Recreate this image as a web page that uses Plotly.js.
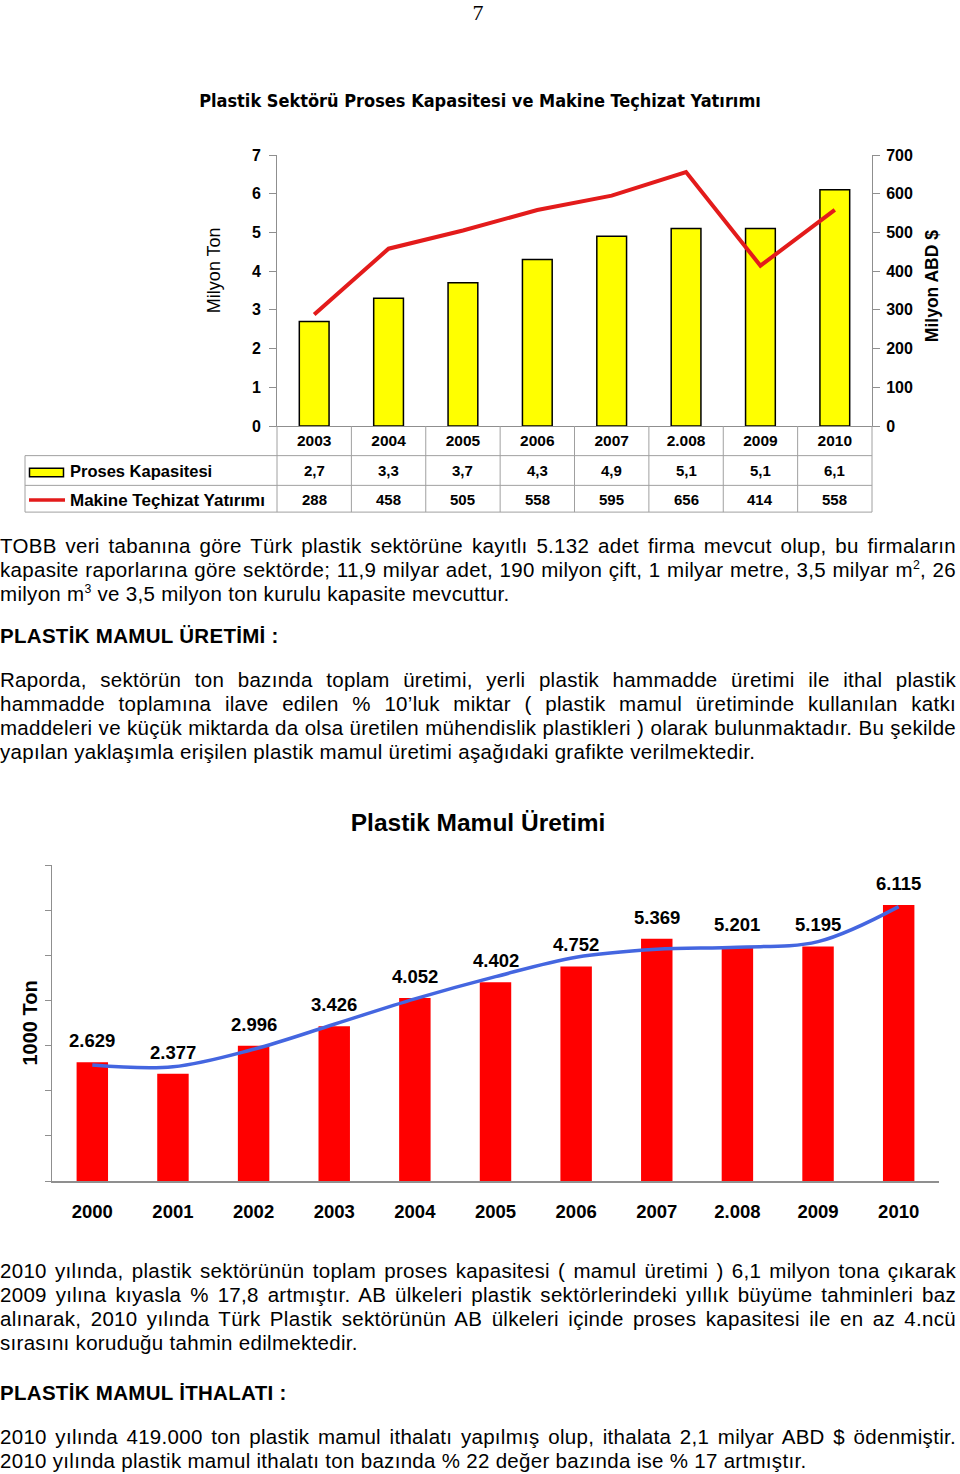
<!DOCTYPE html>
<html>
<head>
<meta charset="utf-8">
<script src="https://cdn.plot.ly/plotly-3.0.1.min.js"></script>
<style>
html,body{margin:0;padding:0;background:#fff;}
#page{position:relative;width:960px;height:1474px;overflow:hidden;font-family:"Liberation Sans",Arial,sans-serif;color:#000;background:#fff;}
.ln{position:absolute;left:0;width:956px;font-size:20.5px;letter-spacing:0.3px;line-height:24px;text-align:justify;text-align-last:justify;}
.ln.last{text-align-last:left;}
.hd{font-weight:bold;}
sup{font-size:60%;line-height:0;vertical-align:super;}
#pg{position:absolute;left:0;width:956px;top:1px;text-align:center;font-family:"Liberation Serif","Times New Roman",serif;font-size:22px;line-height:24px;}
#c1{position:absolute;left:0;top:60px;width:960px;height:470px;}
#c2{position:absolute;left:0;top:780px;width:960px;height:450px;}
</style>
</head>
<body>
<div id="page">
  <div id="pg">7</div>
  <div id="c1"></div>

  <div class="ln" style="top:534px">TOBB veri tabanına göre Türk plastik sektörüne kayıtlı 5.132 adet firma mevcut olup, bu firmaların</div>
  <div class="ln" style="top:558px">kapasite raporlarına göre sektörde; 11,9 milyar adet, 190 milyon çift, 1 milyar metre, 3,5 milyar m<sup>2</sup>, 26</div>
  <div class="ln last" style="top:582px">milyon m<sup>3</sup> ve 3,5 milyon ton kurulu kapasite mevcuttur.</div>

  <div class="ln last hd" style="top:624px">PLASTİK MAMUL ÜRETİMİ :</div>

  <div class="ln" style="top:668px">Raporda, sektörün ton bazında toplam üretimi, yerli plastik hammadde üretimi ile ithal plastik</div>
  <div class="ln" style="top:692px">hammadde toplamına ilave edilen % 10’luk miktar ( plastik mamul üretiminde kullanılan katkı</div>
  <div class="ln" style="top:716px">maddeleri ve küçük miktarda da olsa üretilen mühendislik plastikleri ) olarak bulunmaktadır. Bu şekilde</div>
  <div class="ln last" style="top:740px">yapılan yaklaşımla erişilen plastik mamul üretimi aşağıdaki grafikte verilmektedir.</div>

  <div id="c2"></div>

  <div class="ln" style="top:1259px">2010 yılında, plastik sektörünün toplam proses kapasitesi ( mamul üretimi ) 6,1 milyon tona çıkarak</div>
  <div class="ln" style="top:1283px">2009 yılına kıyasla % 17,8 artmıştır. AB ülkeleri plastik sektörlerindeki yıllık büyüme tahminleri baz</div>
  <div class="ln" style="top:1307px">alınarak, 2010 yılında Türk Plastik sektörünün AB ülkeleri içinde proses kapasitesi ile en az 4.ncü</div>
  <div class="ln last" style="top:1331px">sırasını koruduğu tahmin edilmektedir.</div>

  <div class="ln last hd" style="top:1381px">PLASTİK MAMUL İTHALATI :</div>

  <div class="ln" style="top:1425px">2010 yılında 419.000 ton plastik mamul ithalatı yapılmış olup, ithalata 2,1 milyar ABD $ ödenmiştir.</div>
  <div class="ln last" style="top:1449px">2010 yılında plastik mamul ithalatı ton bazında % 22 değer bazında ise % 17 artmıştır.</div>
</div>

<script>
// ---------- Data: chart 1 ----------
const years1 = ['2003', '2004', '2005', '2006', '2007', '2.008', '2009', '2010'];
const capacity = [2.7, 3.3, 3.7, 4.3, 4.9, 5.1, 5.1, 6.1];          // Milyon Ton
const investment = [288, 458, 505, 558, 595, 656, 414, 558];       // Milyon ABD $
const seriesNames = ['Proses Kapasitesi', 'Makine Teçhizat Yatırımı'];

// ---------- Data: chart 2 ----------
const years2 = ['2000', '2001', '2002', '2003', '2004', '2005', '2006', '2007', '2.008', '2009', '2010'];
const production = [2629, 2377, 2996, 3426, 4052, 4402, 4752, 5369, 5201, 5195, 6115]; // 1000 Ton
const trendLine = [2570, 2530, 2918, 3472, 4033, 4527, 4958, 5135, 5180, 5303, 6078];

const FONT = '"Liberation Sans", Arial, sans-serif';
const GRAY = '#8f8f8f';

function dec1(v) { return v.toFixed(1).replace('.', ','); }
function thou(v) { return String(v).replace(/\B(?=(\d{3})+(?!\d))/g, '.'); }

// keep each justified text line on one row
document.querySelectorAll('.ln').forEach(el => {
  if (el.classList.contains('last')) return;
  el.style.textAlign = 'left'; el.style.textAlignLast = 'left'; el.style.whiteSpace = 'nowrap';
  const r = document.createRange(); r.selectNodeContents(el);
  const w = r.getBoundingClientRect().width;
  el.style.textAlign = ''; el.style.textAlignLast = ''; el.style.whiteSpace = '';
  if (w > 954) {
    const n = el.textContent.length;
    el.style.letterSpacing = (0.3 - (w - 954) / n - 0.02) + 'px';
  }
});

// ================= Chart 1 =================
(function () {
  const H = 470, mt = 95, mb = 104.3;
  const plotH = H - mt - mb;
  const axisY = 60 + mt + plotH;
  const py = Y => (axisY - Y) / plotH;
  const plotL = 277, plotW = 960 - 277 - 88;
  const px = X => (X - plotL) / plotW;

  const traces = [
    {
      type: 'bar', name: seriesNames[0], x: years1, y: capacity, yaxis: 'y',
      width: 0.4,
      marker: { color: '#ffff00', line: { color: '#000', width: 1.5 } }
    },
    {
      type: 'scatter', mode: 'lines', name: seriesNames[1], x: years1, y: investment, yaxis: 'y2',
      line: { color: '#e31b1b', width: 4 }
    }
  ];

  const n = years1.length;
  const shapes = [];
  const tblTop = py(455.3), r1Bot = py(485), tblBot = py(511.7), tblLeft = px(25);
  for (let i = 0; i <= n; i++) {
    shapes.push({ type: 'line', xref: 'paper', yref: 'paper', x0: i / n, x1: i / n, y0: 0, y1: tblBot,
      line: { color: '#a0a0a0', width: 1 } });
  }
  shapes.push({ type: 'line', xref: 'paper', yref: 'paper', x0: tblLeft, x1: tblLeft, y0: tblTop, y1: tblBot,
    line: { color: '#a0a0a0', width: 1 } });
  [tblTop, r1Bot, tblBot].forEach(yv => shapes.push({ type: 'line', xref: 'paper', yref: 'paper',
    x0: tblLeft, x1: 1, y0: yv, y1: yv, line: { color: '#a0a0a0', width: 1 } }));
  shapes.push({ type: 'rect', xref: 'paper', yref: 'paper', x0: px(29.5), x1: px(63.5), y0: py(476.5), y1: py(468),
    fillcolor: '#ffff00', line: { color: '#000', width: 1.5 } });
  shapes.push({ type: 'line', xref: 'paper', yref: 'paper', x0: px(29), x1: px(65), y0: py(499.5), y1: py(499.5),
    line: { color: '#e31b1b', width: 3.5 } });

  const ann = [];
  const cellFont = { family: FONT, size: 15, color: '#000', weight: 'bold' };
  years1.forEach((yr, i) => {
    ann.push({ xref: 'x', yref: 'paper', x: i, y: py(470.5), text: dec1(capacity[i]), showarrow: false,
      font: cellFont, xanchor: 'center', yanchor: 'middle' });
    ann.push({ xref: 'x', yref: 'paper', x: i, y: py(499.5), text: String(investment[i]), showarrow: false,
      font: cellFont, xanchor: 'center', yanchor: 'middle' });
  });
  const legFont = { family: FONT, size: 16.5, color: '#000', weight: 'bold' };
  ann.push({ xref: 'paper', yref: 'paper', x: px(68), y: py(471), text: seriesNames[0], showarrow: false,
    font: legFont, xanchor: 'left', yanchor: 'middle' });
  ann.push({ xref: 'paper', yref: 'paper', x: px(68), y: py(500), text: seriesNames[1], showarrow: false,
    font: { family: FONT, size: 17, color: '#000', weight: 'bold' }, xanchor: 'left', yanchor: 'middle' });
  ann.push({ xref: 'paper', yref: 'paper', x: px(214), y: py(270), text: 'Milyon Ton', textangle: -90, showarrow: false,
    font: { family: FONT, size: 18, color: '#000' }, xanchor: 'center', yanchor: 'middle' });
  ann.push({ xref: 'paper', yref: 'paper', x: px(932), y: py(286), text: 'Milyon ABD $', textangle: -90, showarrow: false,
    font: { family: FONT, size: 17.5, color: '#000', weight: 'bold' }, xanchor: 'center', yanchor: 'middle' });

  const tickFont = { family: FONT, size: 16, color: '#000', weight: 'bold' };
  const layout = {
    width: 960, height: H,
    margin: { l: plotL, r: 88, t: mt, b: mb, pad: 0 },
    paper_bgcolor: 'rgba(0,0,0,0)', plot_bgcolor: 'rgba(0,0,0,0)',
    showlegend: false,
    title: {
      text: 'Plastik Sektörü Proses Kapasitesi ve Makine Teçhizat Yatırımı',
      font: { family: '"Liberation Sans Narrow", "DejaVu Sans Condensed", Arial, sans-serif', size: 18, color: '#000', weight: 'bold' },
      xref: 'container', x: 0.5, xanchor: 'center',
      yref: 'container', y: 1 - 41 / H, yanchor: 'middle'
    },
    xaxis: {
      type: 'category', range: [-0.5, n - 0.5], showline: true, linecolor: GRAY, linewidth: 1,
      ticks: '', showgrid: false, zeroline: false, tickfont: { family: FONT, size: 15.5, color: '#000', weight: 'bold' },
      fixedrange: true
    },
    yaxis: {
      range: [0, 7], tick0: 0, dtick: 1, showline: true, linecolor: GRAY, linewidth: 1,
      ticks: 'outside', ticklen: 7, tickcolor: GRAY, showgrid: false, zeroline: false,
      tickfont: tickFont, ticklabelstandoff: 5, fixedrange: true
    },
    yaxis2: {
      overlaying: 'y', side: 'right', range: [0, 700], tick0: 0, dtick: 100, showline: true, linecolor: GRAY, linewidth: 1,
      ticks: 'outside', ticklen: 7, tickcolor: GRAY, showgrid: false, zeroline: false,
      tickfont: tickFont, ticklabelstandoff: 3, fixedrange: true
    },
    shapes: shapes,
    annotations: ann
  };
  Plotly.newPlot('c1', traces, layout, { staticPlot: true, displayModeBar: false });
})();

// ================= Chart 2 =================
(function () {
  const H = 450;
  const traces = [
    {
      type: 'bar', x: years2, y: production, width: 0.39,
      marker: { color: '#ff0000', line: { width: 0 } }, name: 'Üretim'
    },
    {
      type: 'scatter', mode: 'lines', x: years2, y: trendLine, name: 'Trend',
      line: { color: '#4466e0', width: 3.5, shape: 'spline', smoothing: 1 }
    }
  ];
  const ann = years2.map((yr, i) => ({
    xref: 'x', yref: 'y', x: i, y: production[i], text: thou(production[i]), showarrow: false,
    xanchor: 'center', yanchor: 'bottom', yshift: 9,
    font: { family: FONT, size: 18.5, color: '#000', weight: 'bold' }
  }));
  const layout = {
    width: 960, height: H,
    margin: { l: 52, r: 21, t: 85, b: 49, pad: 0 },
    paper_bgcolor: 'rgba(0,0,0,0)', plot_bgcolor: 'rgba(0,0,0,0)',
    showlegend: false,
    title: {
      text: 'Plastik Mamul Üretimi',
      font: { family: FONT, size: 24.5, color: '#000', weight: 'bold' },
      xref: 'container', x: 0.498, xanchor: 'center',
      yref: 'container', y: 1 - 42 / H, yanchor: 'middle'
    },
    xaxis: {
      type: 'category', range: [-0.5, years2.length - 0.5], showline: true, linecolor: GRAY, linewidth: 1.5,
      ticks: '', showgrid: false, zeroline: false, ticklabelstandoff: 13,
      tickfont: { family: FONT, size: 18.5, color: '#000', weight: 'bold' }, fixedrange: true
    },
    yaxis: {
      range: [0, 7000], tick0: 0, dtick: 1000, showticklabels: false, showline: true, linecolor: GRAY, linewidth: 1,
      ticks: 'outside', ticklen: 6, tickcolor: GRAY, showgrid: false, zeroline: false, fixedrange: true,
      title: { text: '1000 Ton', font: { family: FONT, size: 20, color: '#000', weight: 'bold' }, standoff: 2 }
    },
    annotations: ann
  };
  Plotly.newPlot('c2', traces, layout, { staticPlot: true, displayModeBar: false });
})();
</script>
</body>
</html>
